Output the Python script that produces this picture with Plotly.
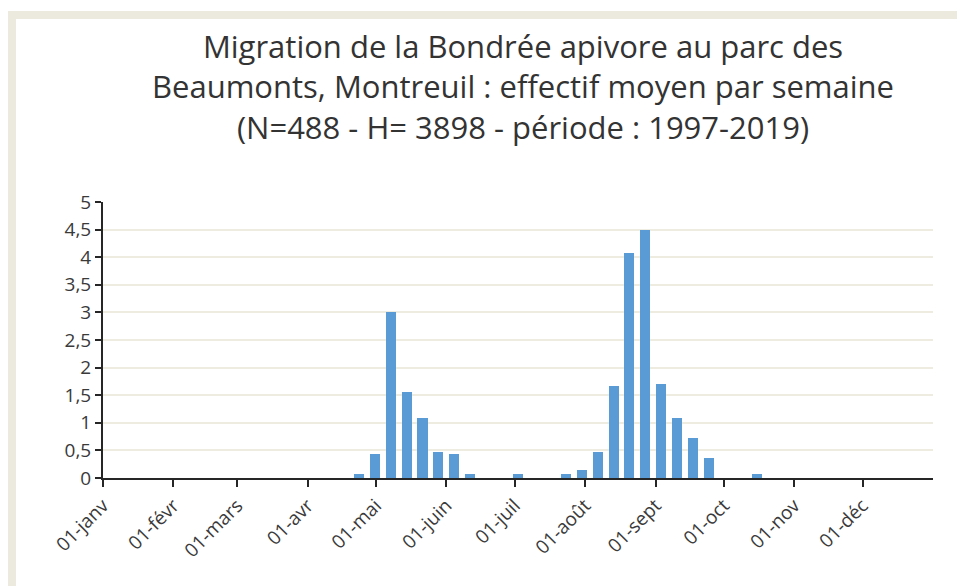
import plotly.graph_objects as go
import pandas as pd

# Weekly mean counts (52 weeks, starting 1 January)
week_start = pd.date_range("2019-01-01 12:00", periods=52, freq="7D")
values = [0, 0, 0, 0, 0, 0, 0, 0, 0, 0,
          0, 0, 0, 0, 0, 0, 0.08, 0.44, 3.01, 1.56,
          1.09, 0.48, 0.44, 0.08, 0, 0, 0.08, 0, 0, 0.08,
          0.15, 0.48, 1.67, 4.07, 4.5, 1.71, 1.09, 0.73, 0.37, 0,
          0, 0.08, 0, 0, 0, 0, 0, 0, 0, 0,
          0, 0]

month_dates = ["2019-01-01", "2019-02-01", "2019-03-01", "2019-04-01", "2019-05-01",
               "2019-06-01", "2019-07-01", "2019-08-01", "2019-09-01", "2019-10-01",
               "2019-11-01", "2019-12-01"]
month_labels = ["01-janv", "01-févr", "01-mars", "01-avr", "01-mai", "01-juin",
                "01-juil", "01-août", "01-sept", "01-oct", "01-nov", "01-déc"]

title_text = ("Migration de la Bondrée apivore au parc des<br>"
              "Beaumonts, Montreuil : effectif moyen par semaine<br>"
              "(N=488 - H= 3898 - période : 1997-2019)")

fig = go.Figure()
fig.add_trace(go.Bar(
    x=week_start, y=values,
    width=4.4 * 86400000,
    marker=dict(color="#5B9BD5", line=dict(width=0)),
))

# page body has an 8px margin: figure coordinates = page coordinates - 8
OFF = 8
W, H = 965 - OFF, 586 - OFF
L, T = 103 - OFF, 202 - OFF
pw, ph = 830, 276
R = W - L - pw
B = H - T - ph

def px(xp):
    return (xp - OFF - L) / pw

def py(yp):
    return (T + ph - (yp - OFF)) / ph

frame = "#ECE9DF"
fig.add_shape(type="rect", xref="paper", yref="paper",
              x0=px(8), x1=px(1000), y0=py(11), y1=py(19),
              fillcolor=frame, line=dict(width=0), layer="below")
fig.add_shape(type="rect", xref="paper", yref="paper",
              x0=px(8), x1=px(16), y0=py(700), y1=py(11),
              fillcolor=frame, line=dict(width=0), layer="below")

fig.add_annotation(text=title_text, xref="paper", yref="paper",
                   x=px(523), y=py(87), xanchor="center", yanchor="middle",
                   showarrow=False, align="center",
                   font=dict(family="Open Sans", size=31, color="#333333"))

fig.update_layout(
    width=W, height=H,
    margin=dict(l=L, r=R, t=T, b=B),
    paper_bgcolor="white", plot_bgcolor="white",
    separators=", ",
    showlegend=False,
    bargap=0,
    font=dict(family="Open Sans", color="#404040"),
)
fig.update_xaxes(
    type="date", range=["2019-01-01", "2020-01-01"],
    tickmode="array", tickvals=month_dates, ticktext=month_labels,
    tickangle=-45, ticks="outside", ticklen=7, tickwidth=2, tickcolor="#262626",
    showline=True, linecolor="#262626", linewidth=2,
    showgrid=False, zeroline=False,
    tickfont=dict(family="Open Sans", size=19, color="#3a3a3a"),
)
fig.update_yaxes(
    range=[0, 5], dtick=0.5, tick0=0,
    ticks="outside", ticklen=6, tickwidth=2, tickcolor="#262626",
    showline=True, linecolor="#262626", linewidth=2,
    showgrid=True, gridcolor="#EEEBE1", gridwidth=1.5,
    zeroline=False,
    tickfont=dict(family="Open Sans", size=19, color="#3a3a3a"),
)

fig.write_html("out.html")
